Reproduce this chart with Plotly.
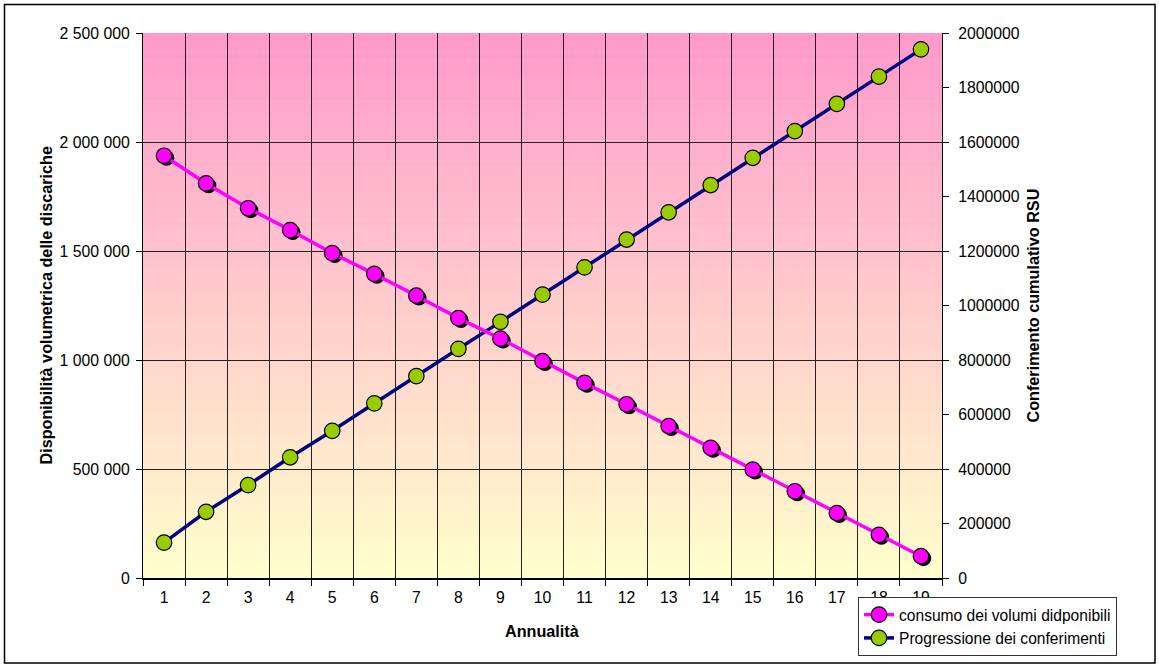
import plotly.graph_objects as go

years = list(range(1, 20))
consumo = [1937000, 1810000, 1696000, 1596000, 1490000, 1395000, 1295000, 1192000, 1098000,
           995000, 895000, 797000, 697000, 597000, 497000, 398000, 298000, 198000, 100000]
conferimenti = [130000, 243000, 341000, 443000, 540000, 641000, 741000, 841000, 940000, 1040000,
                1140000, 1242000, 1342000, 1442000, 1542000, 1640000, 1740000, 1840000, 1940000]

name_consumo = "consumo dei volumi didponibili"
name_conf = "Progressione dei conferimenti"
title_left = "Disponibilità volumetrica delle discariche"
title_right = "Conferimento cumulativo RSU"
title_x = "Annualità"

FONT = "Liberation Sans, Arial, sans-serif"
W, H = 1159, 667
L, R, T, B = 143, 942, 33, 578

fig = go.Figure()

# green series on primary (right-side) axis so pink draws on top
fig.add_trace(go.Scatter(
    x=years, y=conferimenti, name=name_conf, mode="lines+markers",
    line=dict(color="#000080", width=3.5),
    marker=dict(symbol="circle", size=15.5, color="#99CC00", line=dict(color="#000000", width=1.2)),
    yaxis="y", legendrank=2))

# shadow of pink markers
fig.add_trace(go.Scatter(
    x=[v + 0.06 for v in years], y=[v - 10000 for v in consumo], mode="markers",
    marker=dict(symbol="circle", size=15.5, color="#000000"),
    yaxis="y2", showlegend=False, hoverinfo="skip"))

fig.add_trace(go.Scatter(
    x=years, y=consumo, name=name_consumo, mode="lines+markers",
    line=dict(color="#FF00FF", width=3.5),
    marker=dict(symbol="circle", size=15.5, color="#FF00FF", line=dict(color="#000000", width=1.2)),
    yaxis="y2", legendrank=1))

# gradient background strips
n = 120
c0 = (255, 153, 204)
c1 = (255, 255, 204)
shapes = []
for i in range(n):
    t = (i + 0.5) / n
    col = tuple(round(c0[k] + (c1[k] - c0[k]) * t) for k in range(3))
    shapes.append(dict(type="rect", xref="x domain", yref="y domain",
                       x0=0, x1=1, y0=1 - (i + 1) / n - 0.001, y1=1 - i / n,
                       fillcolor="rgb(%d,%d,%d)" % col, line=dict(width=0), layer="below"))
# outer border
pw, ph = R - L, B - T
shapes.append(dict(type="rect", xref="paper", yref="paper",
                   x0=(4.5 - L) / pw, x1=(1155 - L) / pw, y0=(B - 663) / ph, y1=(B - 4.5) / ph,
                   line=dict(color="#000000", width=1.5), fillcolor="rgba(0,0,0,0)", layer="below"))

tickfont = dict(family=FONT, size=15.8, color="#000000")
titlefont = dict(family=FONT, size=16.2, color="#000000", weight="bold")

fig.update_layout(
    width=W, height=H,
    margin=dict(l=L, r=W - R, t=T, b=H - B, pad=0, autoexpand=False),
    paper_bgcolor="#FFFFFF", plot_bgcolor="#FFFFFF",
    separators=", ",
    showlegend=True,
    legend=dict(xref="container", yref="container", x=858 / W, y=1 - 597 / H,
                xanchor="left", yanchor="top",
                bgcolor="#FFFFFF", bordercolor="#333333", borderwidth=1,
                font=dict(family=FONT, size=15.6, color="#000000"),
                tracegroupgap=0, itemwidth=30),
    xaxis=dict(range=[0.5, 19.5], tickvals=years, ticktext=[str(v) for v in years],
               ticks="", showgrid=False, zeroline=False, automargin=False,
               showline=True, linecolor="#000000", linewidth=1.5,
               tickfont=tickfont, ticklabelstandoff=4,
               minor=dict(tick0=0.5, dtick=1, ticks="outside", ticklen=6, tickcolor="#000000",
                          showgrid=True, gridcolor="#222222", gridwidth=1)),
    yaxis=dict(range=[0, 2000000], dtick=200000, tickformat="d", side="right", automargin=False,
               showgrid=False, zeroline=False, showline=True, linecolor="#000000", linewidth=1,
               ticks="outside", ticklen=6, tickcolor="#000000", tickfont=tickfont,
               ticklabelstandoff=6),
    yaxis2=dict(range=[0, 2500000], dtick=500000, tickformat=",d", side="left", overlaying="y",
                automargin=False,
                showgrid=True, gridcolor="#222222", gridwidth=1, zeroline=False,
                showline=True, linecolor="#000000", linewidth=1,
                ticks="outside", ticklen=6, tickcolor="#000000", tickfont=tickfont,
                ticklabelstandoff=3),
    shapes=shapes,
    annotations=[
        dict(text=title_left, xref="paper", yref="paper", x=(45 - L) / pw, y=0.5,
             textangle=-90, showarrow=False, font=titlefont, xanchor="center", yanchor="middle"),
        dict(text=title_right, xref="paper", yref="paper", x=(1032 - L) / pw, y=0.5,
             textangle=-90, showarrow=False, font=titlefont, xanchor="center", yanchor="middle"),
        dict(text=title_x, xref="paper", yref="paper", x=0.5, y=(B - 631) / ph,
             showarrow=False, font=titlefont, xanchor="center", yanchor="middle"),
    ],
)

fig.write_html("out.html", config={"displayModeBar": False},
               post_script="document.body.style.margin='0';document.body.style.overflow='hidden';")
